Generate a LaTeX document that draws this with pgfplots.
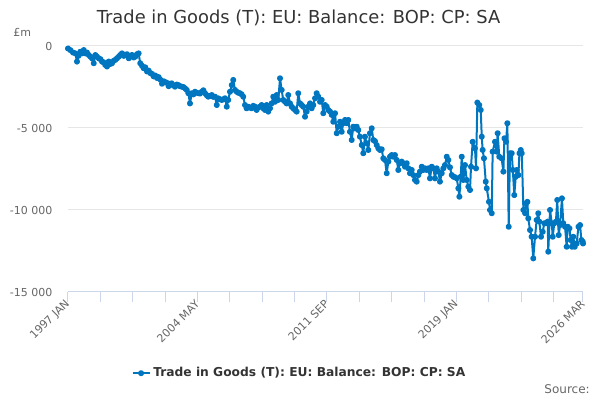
\documentclass[border=0pt]{standalone}
\usepackage{pgfplots}
\pgfplotsset{compat=1.18}
\usepackage{fontspec}
\setmainfont{DejaVu Sans}
\definecolor{series}{RGB}{0,118,192}
\definecolor{tickc}{RGB}{204,214,235}
\definecolor{gridc}{RGB}{230,230,230}
\definecolor{lab}{RGB}{102,102,102}
\definecolor{ttl}{RGB}{51,51,51}
\begin{document}
\begin{tikzpicture}
\path[use as bounding box] (0,0) rectangle (450pt,300pt);
\node[font=\fontsize{13.4pt}{16pt}\selectfont, text=ttl] at (223.9pt,286.5pt) {Trade in Goods (T): EU: Balance: BOP: CP: SA};
\node[font=\fontsize{8.25pt}{10pt}\selectfont, text=lab, anchor=west, inner sep=0pt] at (9.75pt,276pt) {£m};
\node[font=\fontsize{9pt}{11pt}\selectfont, text=lab, anchor=east, inner sep=0pt] at (442.5pt,8.25pt) {Source:};
\begin{axis}[
  at={(51pt,81pt)}, anchor=south west,
  scale only axis, width=386.25pt, height=184.5pt,
  xmin=0, xmax=350, ymin=-15000, ymax=0,
  scaled y ticks=false, scaled x ticks=false,
  axis x line*=bottom, axis y line*=left,
  x axis line style={-, draw=tickc, line width=0.75pt},
  y axis line style={draw=none},
  xtick={0,88,176,264,350},
  xticklabels={1997 JAN,2004 MAY,2011 SEP,2019 JAN,2026 MAR},
  minor xtick={22,44,66,110,132,154,198,220,242,286,308,330},
  x tick style={draw=tickc, line width=0.75pt},
  major tick length=7.5pt, minor tick length=7.5pt, tick align=outside,
  ytick={-15000,-10000,-5000,0},
  yticklabels={-15 000,-10 000,-5 000,0},
  y tick style={draw=none},
  ymajorgrids, grid style={draw=gridc, line width=0.75pt},
  xticklabel style={rotate=45, anchor=east, font=\fontsize{8.25pt}{10pt}\selectfont, text=lab, inner sep=0pt},
  yticklabel style={anchor=east, font=\fontsize{8.25pt}{10pt}\selectfont, text=lab, inner sep=0pt, xshift=-4pt},
  legend style={at={(0.45,-0.33)}, anchor=center, draw=none, fill=none, font=\bfseries\fontsize{9.2pt}{11pt}\selectfont, text=ttl},
  legend image code/.code={\draw[mark repeat=2,mark phase=2,#1] plot coordinates {(0pt,0pt) (6.4pt,0pt) (12.8pt,0pt)};},
  clip=false,
]
\addplot[series, line width=1.5pt, mark=*, mark size=1.5pt, line join=round] table {
m v
0 -150
1.6 -250
3.4 -400
5.0 -450
6.1 -950
7.1 -600
8.4 -350
9.5 -450
10.7 -250
11.8 -450
12.9 -400
14.1 -550
15.2 -650
16.3 -750
17.5 -1050
18.6 -550
19.7 -650
20.9 -750
22.0 -800
23.1 -950
24.3 -1000
25.3 -1150
26.5 -1250
27.7 -950
28.7 -1100
29.9 -1050
31.1 -900
32.1 -850
33.3 -750
34.5 -650
35.5 -550
36.7 -450
37.9 -600
38.9 -550
40.1 -500
41.3 -750
42.3 -600
43.5 -550
44.6 -700
45.7 -650
46.9 -500
48.0 -450
49.1 -1050
50.3 -1200
51.4 -1350
52.5 -1300
53.7 -1550
54.8 -1500
55.9 -1650
57.1 -1700
58.2 -1850
59.3 -1800
60.5 -1950
61.6 -1900
62.7 -2050
63.9 -2300
65.0 -2150
66.1 -2200
67.3 -2250
68.4 -2450
69.3 -2300
70.5 -2280
71.6 -2400
72.7 -2480
73.9 -2350
75.0 -2380
76.1 -2450
77.3 -2480
78.4 -2500
79.5 -2580
80.7 -2680
81.8 -2880
82.9 -3500
84.1 -2880
85.2 -2950
86.3 -2790
87.5 -2850
88.6 -2880
89.7 -2900
90.9 -2790
92.0 -2700
93.1 -2880
94.3 -3000
95.3 -3090
96.5 -3050
97.7 -2990
98.7 -3100
99.9 -3090
101.1 -3600
102.1 -3190
103.3 -3250
104.5 -3290
105.6 -3250
106.7 -3190
107.9 -3700
108.9 -3290
110.1 -2790
111.3 -2380
112.3 -2070
113.5 -2680
114.7 -2790
115.7 -2850
116.9 -2880
118.0 -2950
119.1 -3090
120.3 -3600
121.4 -3800
122.5 -3700
123.7 -3750
124.8 -3800
125.9 -3650
127.1 -3700
128.2 -3900
129.3 -3750
130.5 -3700
131.6 -3600
132.7 -3800
133.9 -3900
135.0 -3600
136.1 -4000
137.3 -3800
138.4 -3500
139.5 -3090
140.7 -3400
141.8 -2990
142.9 -3290
144.1 -1970
145.2 -2680
146.3 -3290
147.5 -3400
148.6 -3500
149.7 -2990
150.9 -3500
152.0 -3700
153.1 -3800
154.3 -3900
155.4 -4000
156.5 -2880
157.7 -3500
158.8 -3600
159.9 -3700
161.1 -4310
162.2 -4000
163.3 -3700
164.5 -3500
165.6 -3800
166.7 -3600
167.9 -3190
169.0 -2880
170.1 -3090
171.3 -3400
172.4 -3290
173.5 -4100
174.7 -3600
175.8 -3700
176.9 -3900
178.1 -4000
179.2 -4200
180.3 -4620
181.5 -4100
182.6 -5320
183.7 -4920
184.9 -4620
186.0 -5230
187.1 -4710
188.3 -4510
189.4 -4710
190.5 -4510
191.6 -5230
192.8 -5730
193.9 -4920
195.0 -5020
196.2 -4920
197.3 -5120
198.4 -5530
199.6 -6040
200.7 -6540
201.8 -5530
203.0 -5930
204.1 -6340
205.2 -5320
206.4 -5020
207.5 -5730
208.6 -5800
209.8 -6040
210.9 -6240
212.0 -6340
213.2 -6300
214.3 -6850
215.4 -6950
216.6 -7760
217.7 -7050
218.8 -6750
220.0 -6650
221.1 -6750
222.2 -6650
223.4 -6950
224.5 -7560
225.6 -7150
226.8 -7050
227.9 -7150
229.0 -7360
230.2 -7150
231.3 -7460
232.4 -7760
233.6 -7560
234.7 -7870
235.8 -8170
237.0 -8270
238.1 -7870
239.2 -7660
240.4 -7360
241.5 -7560
242.6 -7460
243.8 -7560
244.9 -7460
246.0 -8070
247.2 -7360
248.3 -7460
249.4 -8070
250.6 -7460
251.7 -7660
252.8 -8270
254.0 -7760
255.1 -7460
256.2 -7260
257.4 -6750
258.5 -6950
259.6 -7400
260.8 -7870
261.9 -7970
263.0 -8000
264.2 -8070
265.3 -8680
266.0 -9190
266.9 -7970
267.6 -6750
268.7 -8170
269.8 -7260
271.0 -8170
272.1 -8580
273.2 -8780
273.9 -7360
275.0 -5840
276.6 -6240
277.3 -7460
278.2 -3450
279.5 -3600
280.5 -3900
281.2 -5530
281.8 -6340
282.7 -6850
283.9 -8270
284.6 -8680
286.1 -9500
286.8 -10000
288.0 -10200
288.6 -6440
290.2 -5840
291.3 -6440
292.0 -5320
293.1 -6750
294.7 -6850
295.9 -7660
296.6 -5630
297.7 -5840
298.6 -4710
299.5 -11020
300.4 -6540
301.6 -6540
302.3 -7560
303.3 -9090
304.3 -7970
305.0 -7560
306.1 -7870
306.8 -6540
307.7 -6340
308.4 -6540
309.5 -10000
310.7 -10200
311.3 -9590
312.2 -9500
312.8 -10510
314.0 -11220
315.1 -11630
316.2 -12950
317.4 -11630
318.5 -10610
319.6 -10200
320.3 -10710
321.5 -11630
322.6 -11330
323.7 -10810
324.9 -10810
326.0 -10710
326.4 -12540
327.6 -10000
328.8 -10810
329.4 -11630
330.5 -10810
331.6 -10710
332.5 -9390
333.5 -11530
334.4 -10920
335.7 -9290
336.6 -10810
337.8 -11020
338.9 -12240
339.6 -11020
340.8 -11120
341.6 -11830
342.5 -12240
343.4 -11630
344.4 -12240
345.7 -12040
346.9 -11020
348.0 -10920
348.9 -11830
349.8 -11930
350 -12040
};
\addlegendentry{Trade in Goods (T): EU: Balance: BOP: CP: SA}
\end{axis}
\end{tikzpicture}
\end{document}
